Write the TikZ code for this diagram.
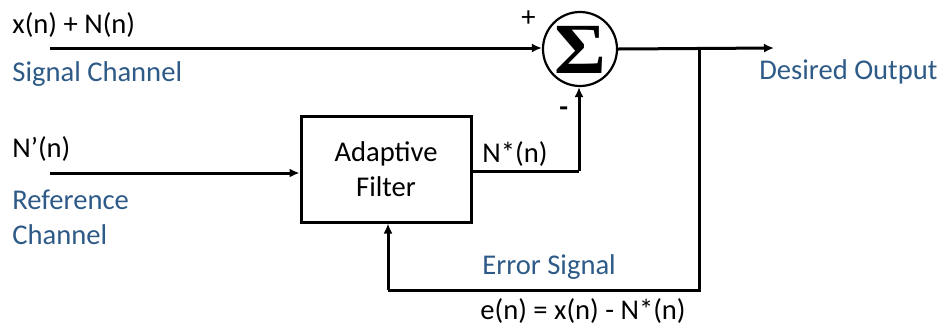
\documentclass[tikz,border=0pt]{standalone}
\usepackage{fontspec}
\setmainfont{Carlito}
\newfontfamily\sigmafont{Liberation Serif}
\usetikzlibrary{arrows.meta}
\definecolor{labelblue}{HTML}{2E5A87}
\begin{document}
\begin{tikzpicture}[x=0.5pt,y=-0.5pt,
  wire/.style={line width=1.5pt,-{Latex[length=5pt,width=4.5pt]}},
  plain/.style={line width=1.5pt},
  txt/.style={font=\fontsize{14.3}{17}\selectfont,anchor=base west,inner sep=0pt},
  bluetxt/.style={txt,text=labelblue},
  filterbox/.style={draw,line width=1.5pt,minimum width=85pt,minimum height=53pt,inner sep=0pt,
    font=\fontsize{14.3}{17}\selectfont,align=center},
  sumnode/.style={draw,circle,line width=1.1pt,minimum size=37pt,inner sep=0pt}]
\useasboundingbox (0,0) rectangle (944,328);
% nodes
\node[filterbox] (af) at (386,169) {Adaptive\\[0.5pt]Filter};
\node[sumnode] (sum) at (580,49) {};
\node[inner sep=0pt,xscale=1.1] (sig) at ([yshift=-0.5pt]sum.center) {\sigmafont\bfseries\fontsize{36}{36}\selectfont Σ};
\coordinate (in1) at (50,48);
\coordinate (in2) at (50,173);
\coordinate (out) at (774,48);
\coordinate (jn) at (699,48);
\coordinate (jb) at (699,290);
\coordinate (fb) at (388,290);
\coordinate (nc) at (579,171);
% connectors
\draw[wire] (in1) -- (in1 -| sum.west);
\draw[wire] (in2) -- (in2 -| af.west);
\draw[wire] (sum.east) -- (out);
\draw[plain] (jn) -- (jb) -- (fb);
\draw[wire] (fb) -- (fb |- af.south);
\draw[plain] (af.east |- nc) -- (nc);
\draw[wire] (nc) -- (nc |- sum.south);
% labels
\node[txt] (l1) at (12,33) {x(n) + N(n)};
\node[bluetxt] (l2) at (12,81) {Signal Channel};
\node[txt] (l3) at (12,157) {N’(n)};
\node[bluetxt] (l4) at (12,209) {Reference};
\node[bluetxt] (l5) at (12,244) {Channel};
\node[txt] (l6) at (482,162) {N*(n)};
\node[bluetxt] (l7) at (759,79) {Desired Output};
\node[txt] (l8) at (521,26) {+};
\node[txt,font=\fontsize{14.3}{17}\selectfont\bfseries] (l9) at (559,116) {-};
\node[bluetxt] (l10) at (482,274) {Error Signal};
\node[txt] (l11) at (480,319) {e(n) = x(n) - N*(n)};
\end{tikzpicture}
\end{document}
